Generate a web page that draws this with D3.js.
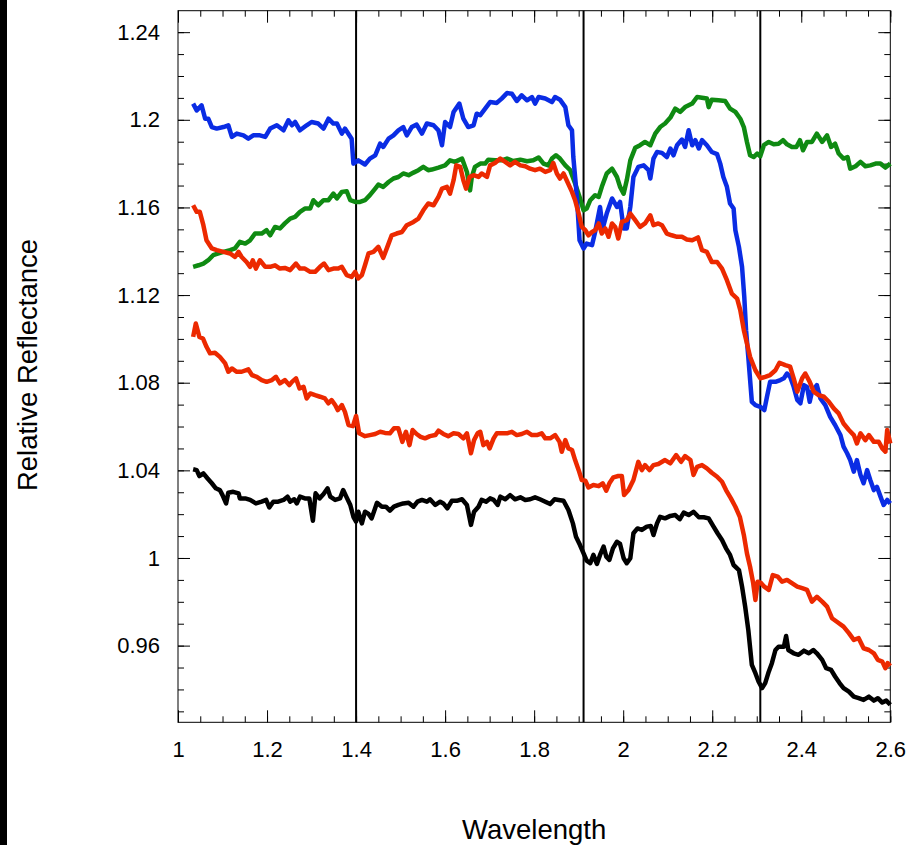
<!DOCTYPE html>
<html>
<head>
<meta charset="utf-8">
<script src="https://cdn.jsdelivr.net/npm/d3@7"></script>
<style>
  html, body { margin: 0; padding: 0; background: #fff; }
  svg { display: block; }
  text { font-family: "Liberation Sans", Arial, sans-serif; fill: #000; }
</style>
</head>
<body>
<svg id="chart" width="909" height="845"></svg>
<script>
// ---------- data (wavelength, relative reflectance) ----------
const xTickValues = [1, 1.2, 1.4, 1.6, 1.8, 2, 2.2, 2.4, 2.6];
const xTickLabels = ["1", "1.2", "1.4", "1.6", "1.8", "2", "2.2", "2.4", "2.6"];
const yTickValues = [0.96, 1, 1.04, 1.08, 1.12, 1.16, 1.2, 1.24];
const yTickLabels = ["0.96", "1", "1.04", "1.08", "1.12", "1.16", "1.2", "1.24"];
const markerLines = [1.4, 1.911, 2.308];

const blueSeries = [[1.034,1.2074],[1.042,1.2043],[1.053,1.2066],[1.061,1.2005],[1.068,1.2005],[1.076,1.1967],[1.087,1.1960],[1.102,1.1967],[1.113,1.1975],[1.121,1.1922],[1.132,1.1937],[1.147,1.1929],[1.158,1.1914],[1.169,1.1929],[1.184,1.1929],[1.196,1.1922],[1.207,1.1960],[1.222,1.1975],[1.237,1.1952],[1.248,1.1998],[1.256,1.1975],[1.263,1.1990],[1.274,1.1952],[1.289,1.1975],[1.300,1.1990],[1.315,1.1983],[1.327,1.1960],[1.338,1.2005],[1.349,1.1983],[1.357,1.1983],[1.368,1.1937],[1.375,1.1960],[1.390,1.1914],[1.394,1.1800],[1.405,1.1815],[1.420,1.1796],[1.431,1.1823],[1.443,1.1838],[1.454,1.1891],[1.461,1.1876],[1.473,1.1914],[1.484,1.1929],[1.495,1.1952],[1.506,1.1967],[1.514,1.1929],[1.525,1.1967],[1.536,1.1978],[1.548,1.1937],[1.559,1.1983],[1.574,1.1975],[1.585,1.1952],[1.593,1.1884],[1.600,1.1990],[1.611,1.1967],[1.619,1.2036],[1.632,1.2074],[1.641,1.2005],[1.652,1.1967],[1.664,1.1975],[1.671,1.2028],[1.679,1.2021],[1.690,1.2051],[1.701,1.2081],[1.716,1.2077],[1.727,1.2097],[1.739,1.2122],[1.750,1.2119],[1.761,1.2086],[1.772,1.2112],[1.784,1.2089],[1.795,1.2104],[1.802,1.2074],[1.810,1.2104],[1.825,1.2097],[1.840,1.2081],[1.847,1.2104],[1.858,1.2092],[1.870,1.2058],[1.877,1.1975],[1.885,1.1952],[1.888,1.1830],[1.896,1.1648],[1.902,1.1450],[1.911,1.1413],[1.918,1.1435],[1.930,1.1428],[1.937,1.1488],[1.948,1.1602],[1.954,1.1504],[1.963,1.1572],[1.975,1.1641],[1.986,1.1602],[1.993,1.1625],[2.001,1.1504],[2.008,1.1504],[2.016,1.1602],[2.023,1.1739],[2.034,1.1785],[2.046,1.1792],[2.057,1.1770],[2.061,1.1732],[2.068,1.1823],[2.076,1.1853],[2.087,1.1849],[2.098,1.1830],[2.106,1.1869],[2.113,1.1838],[2.121,1.1884],[2.132,1.1910],[2.139,1.1876],[2.147,1.1952],[2.155,1.1884],[2.162,1.1907],[2.170,1.1869],[2.177,1.1907],[2.188,1.1884],[2.199,1.1853],[2.211,1.1843],[2.218,1.1800],[2.225,1.1739],[2.233,1.1694],[2.240,1.1618],[2.248,1.1595],[2.252,1.1496],[2.260,1.1420],[2.267,1.1329],[2.272,1.1192],[2.276,1.1040],[2.281,1.0918],[2.289,1.0713],[2.297,1.0698],[2.308,1.0690],[2.317,1.0675],[2.323,1.0736],[2.330,1.0804],[2.342,1.0804],[2.353,1.0812],[2.361,1.0820],[2.368,1.0842],[2.375,1.0827],[2.383,1.0781],[2.391,1.0721],[2.398,1.0706],[2.406,1.0789],[2.413,1.0781],[2.419,1.0713],[2.424,1.0759],[2.435,1.0789],[2.443,1.0728],[2.454,1.0698],[2.465,1.0644],[2.476,1.0607],[2.488,1.0561],[2.495,1.0508],[2.503,1.0478],[2.510,1.0447],[2.518,1.0394],[2.525,1.0447],[2.533,1.0379],[2.540,1.0341],[2.548,1.0401],[2.555,1.0356],[2.563,1.0310],[2.570,1.0325],[2.578,1.0280],[2.585,1.0242],[2.593,1.0265],[2.600,1.0249]];

const greenSeries = [[1.034,1.1329],[1.046,1.1336],[1.057,1.1344],[1.068,1.1359],[1.079,1.1382],[1.091,1.1390],[1.102,1.1397],[1.117,1.1405],[1.128,1.1413],[1.139,1.1443],[1.151,1.1435],[1.162,1.1450],[1.173,1.1481],[1.188,1.1481],[1.199,1.1496],[1.207,1.1473],[1.218,1.1511],[1.229,1.1504],[1.240,1.1527],[1.252,1.1549],[1.263,1.1557],[1.274,1.1580],[1.285,1.1595],[1.297,1.1595],[1.304,1.1633],[1.315,1.1610],[1.327,1.1633],[1.338,1.1633],[1.349,1.1663],[1.357,1.1641],[1.368,1.1671],[1.379,1.1674],[1.387,1.1633],[1.398,1.1625],[1.409,1.1625],[1.420,1.1633],[1.431,1.1656],[1.443,1.1686],[1.450,1.1704],[1.461,1.1694],[1.473,1.1716],[1.484,1.1732],[1.495,1.1739],[1.506,1.1755],[1.518,1.1747],[1.529,1.1759],[1.540,1.1770],[1.551,1.1785],[1.562,1.1770],[1.570,1.1773],[1.585,1.1782],[1.600,1.1792],[1.611,1.1815],[1.622,1.1808],[1.638,1.1823],[1.649,1.1762],[1.656,1.1678],[1.660,1.1739],[1.667,1.1785],[1.679,1.1800],[1.690,1.1800],[1.697,1.1818],[1.712,1.1815],[1.727,1.1815],[1.739,1.1823],[1.753,1.1812],[1.769,1.1818],[1.784,1.1811],[1.798,1.1815],[1.810,1.1828],[1.821,1.1800],[1.832,1.1792],[1.840,1.1823],[1.849,1.1838],[1.858,1.1823],[1.870,1.1792],[1.881,1.1770],[1.892,1.1709],[1.902,1.1648],[1.911,1.1587],[1.918,1.1595],[1.926,1.1633],[1.937,1.1656],[1.945,1.1648],[1.952,1.1694],[1.963,1.1755],[1.975,1.1777],[1.986,1.1739],[1.993,1.1694],[2.001,1.1663],[2.008,1.1724],[2.016,1.1815],[2.027,1.1872],[2.038,1.1884],[2.049,1.1899],[2.061,1.1884],[2.072,1.1937],[2.083,1.1967],[2.094,1.1983],[2.106,1.2010],[2.117,1.2051],[2.128,1.2036],[2.139,1.2058],[2.155,1.2074],[2.166,1.2104],[2.177,1.2101],[2.188,1.2097],[2.192,1.2058],[2.199,1.2092],[2.214,1.2089],[2.229,1.2086],[2.240,1.2051],[2.252,1.2036],[2.263,1.2005],[2.271,1.1967],[2.278,1.1899],[2.285,1.1838],[2.293,1.1830],[2.301,1.1846],[2.308,1.1834],[2.316,1.1884],[2.327,1.1899],[2.338,1.1888],[2.349,1.1891],[2.359,1.1907],[2.368,1.1888],[2.379,1.1876],[2.389,1.1876],[2.397,1.1907],[2.404,1.1861],[2.413,1.1899],[2.424,1.1899],[2.435,1.1937],[2.447,1.1899],[2.458,1.1929],[2.467,1.1876],[2.476,1.1891],[2.484,1.1846],[2.495,1.1823],[2.504,1.1830],[2.510,1.1777],[2.522,1.1788],[2.533,1.1808],[2.544,1.1788],[2.555,1.1792],[2.567,1.1800],[2.578,1.1800],[2.589,1.1782],[2.600,1.1800]];

const redUpperSeries = [[1.034,1.1610],[1.042,1.1580],[1.049,1.1580],[1.057,1.1519],[1.064,1.1450],[1.076,1.1413],[1.087,1.1405],[1.102,1.1397],[1.117,1.1390],[1.128,1.1374],[1.136,1.1397],[1.143,1.1374],[1.154,1.1351],[1.162,1.1329],[1.168,1.1359],[1.175,1.1321],[1.184,1.1359],[1.196,1.1329],[1.207,1.1329],[1.218,1.1336],[1.229,1.1321],[1.240,1.1324],[1.252,1.1314],[1.265,1.1344],[1.274,1.1321],[1.285,1.1321],[1.297,1.1306],[1.308,1.1306],[1.319,1.1329],[1.328,1.1344],[1.338,1.1314],[1.349,1.1321],[1.360,1.1321],[1.368,1.1329],[1.379,1.1291],[1.390,1.1283],[1.398,1.1306],[1.405,1.1276],[1.413,1.1291],[1.420,1.1336],[1.428,1.1390],[1.439,1.1397],[1.450,1.1420],[1.461,1.1370],[1.473,1.1435],[1.480,1.1473],[1.491,1.1481],[1.503,1.1488],[1.514,1.1519],[1.529,1.1534],[1.540,1.1549],[1.551,1.1587],[1.562,1.1618],[1.574,1.1610],[1.585,1.1648],[1.593,1.1686],[1.604,1.1694],[1.611,1.1663],[1.619,1.1724],[1.625,1.1792],[1.634,1.1785],[1.641,1.1724],[1.647,1.1686],[1.655,1.1739],[1.664,1.1747],[1.675,1.1739],[1.682,1.1755],[1.694,1.1739],[1.701,1.1792],[1.712,1.1803],[1.724,1.1823],[1.735,1.1808],[1.746,1.1792],[1.757,1.1808],[1.769,1.1792],[1.780,1.1788],[1.791,1.1777],[1.802,1.1770],[1.813,1.1777],[1.825,1.1762],[1.836,1.1770],[1.843,1.1803],[1.851,1.1755],[1.858,1.1732],[1.866,1.1755],[1.873,1.1724],[1.885,1.1671],[1.892,1.1633],[1.900,1.1572],[1.907,1.1511],[1.915,1.1496],[1.922,1.1473],[1.930,1.1488],[1.937,1.1496],[1.945,1.1527],[1.952,1.1481],[1.960,1.1504],[1.967,1.1466],[1.975,1.1527],[1.982,1.1511],[1.989,1.1458],[1.997,1.1534],[2.008,1.1542],[2.016,1.1572],[2.027,1.1542],[2.038,1.1511],[2.049,1.1527],[2.061,1.1564],[2.068,1.1519],[2.079,1.1527],[2.087,1.1519],[2.098,1.1481],[2.109,1.1473],[2.121,1.1466],[2.132,1.1466],[2.143,1.1454],[2.155,1.1450],[2.168,1.1463],[2.177,1.1405],[2.188,1.1397],[2.199,1.1351],[2.211,1.1351],[2.222,1.1321],[2.233,1.1268],[2.244,1.1207],[2.256,1.1184],[2.263,1.1131],[2.271,1.1040],[2.278,1.0979],[2.285,1.0918],[2.297,1.0857],[2.308,1.0820],[2.319,1.0827],[2.330,1.0835],[2.342,1.0857],[2.351,1.0891],[2.364,1.0880],[2.375,1.0873],[2.383,1.0820],[2.391,1.0759],[2.402,1.0820],[2.409,1.0842],[2.419,1.0804],[2.428,1.0759],[2.439,1.0743],[2.451,1.0736],[2.462,1.0713],[2.473,1.0683],[2.484,1.0660],[2.495,1.0614],[2.507,1.0584],[2.518,1.0561],[2.525,1.0523],[2.533,1.0569],[2.544,1.0538],[2.552,1.0561],[2.563,1.0530],[2.574,1.0530],[2.582,1.0500],[2.589,1.0485],[2.593,1.0584],[2.600,1.0523]];

const redLowerSeries = [[1.034,1.1009],[1.040,1.1070],[1.048,1.1009],[1.056,1.1002],[1.064,1.0964],[1.072,1.0934],[1.083,1.0937],[1.094,1.0918],[1.106,1.0888],[1.113,1.0850],[1.121,1.0865],[1.132,1.0850],[1.143,1.0850],[1.158,1.0861],[1.166,1.0835],[1.177,1.0827],[1.188,1.0812],[1.199,1.0804],[1.211,1.0812],[1.220,1.0827],[1.229,1.0797],[1.240,1.0812],[1.250,1.0789],[1.256,1.0804],[1.265,1.0820],[1.273,1.0774],[1.282,1.0781],[1.289,1.0728],[1.297,1.0751],[1.308,1.0743],[1.319,1.0736],[1.330,1.0728],[1.338,1.0706],[1.345,1.0721],[1.353,1.0698],[1.359,1.0675],[1.368,1.0698],[1.375,1.0667],[1.383,1.0607],[1.393,1.0602],[1.400,1.0648],[1.407,1.0569],[1.420,1.0556],[1.431,1.0561],[1.443,1.0566],[1.454,1.0576],[1.465,1.0571],[1.476,1.0569],[1.485,1.0592],[1.495,1.0592],[1.504,1.0530],[1.512,1.0576],[1.520,1.0515],[1.527,1.0584],[1.536,1.0566],[1.545,1.0553],[1.555,1.0546],[1.566,1.0556],[1.578,1.0561],[1.585,1.0581],[1.596,1.0566],[1.607,1.0556],[1.619,1.0569],[1.630,1.0566],[1.641,1.0546],[1.649,1.0569],[1.658,1.0478],[1.665,1.0538],[1.673,1.0569],[1.679,1.0576],[1.686,1.0515],[1.694,1.0530],[1.700,1.0500],[1.709,1.0546],[1.716,1.0569],[1.727,1.0569],[1.739,1.0569],[1.750,1.0576],[1.761,1.0561],[1.772,1.0566],[1.784,1.0576],[1.795,1.0561],[1.806,1.0561],[1.817,1.0569],[1.825,1.0546],[1.836,1.0546],[1.847,1.0561],[1.857,1.0530],[1.862,1.0485],[1.870,1.0538],[1.877,1.0500],[1.885,1.0493],[1.892,1.0447],[1.900,1.0401],[1.907,1.0356],[1.915,1.0353],[1.922,1.0322],[1.933,1.0333],[1.945,1.0328],[1.954,1.0341],[1.962,1.0307],[1.969,1.0341],[1.978,1.0368],[1.989,1.0374],[1.997,1.0374],[2.002,1.0287],[2.012,1.0310],[2.023,1.0356],[2.034,1.0439],[2.042,1.0401],[2.049,1.0424],[2.059,1.0401],[2.068,1.0424],[2.079,1.0429],[2.094,1.0447],[2.106,1.0432],[2.119,1.0470],[2.130,1.0439],[2.139,1.0465],[2.151,1.0447],[2.158,1.0379],[2.166,1.0416],[2.177,1.0424],[2.188,1.0409],[2.199,1.0389],[2.211,1.0371],[2.222,1.0348],[2.231,1.0310],[2.242,1.0272],[2.252,1.0234],[2.262,1.0188],[2.271,1.0105],[2.278,1.0021],[2.285,0.9960],[2.292,0.9885],[2.297,0.9808],[2.302,0.9892],[2.310,0.9885],[2.317,0.9869],[2.327,0.9854],[2.336,0.9922],[2.347,0.9915],[2.357,0.9892],[2.368,0.9900],[2.379,0.9885],[2.391,0.9869],[2.402,0.9862],[2.413,0.9854],[2.424,0.9801],[2.435,0.9823],[2.447,0.9801],[2.458,0.9778],[2.469,0.9725],[2.480,0.9709],[2.495,0.9687],[2.507,0.9657],[2.518,0.9626],[2.529,0.9634],[2.540,0.9588],[2.552,0.9580],[2.563,0.9565],[2.572,0.9535],[2.582,0.9527],[2.589,0.9497],[2.594,0.9520],[2.600,0.9507]];

const blackSeries = [[1.034,1.0405],[1.042,1.0401],[1.048,1.0374],[1.057,1.0386],[1.066,1.0364],[1.076,1.0341],[1.085,1.0318],[1.094,1.0310],[1.100,1.0287],[1.108,1.0249],[1.113,1.0298],[1.124,1.0302],[1.136,1.0295],[1.139,1.0272],[1.151,1.0272],[1.162,1.0265],[1.175,1.0249],[1.188,1.0257],[1.198,1.0265],[1.205,1.0231],[1.214,1.0257],[1.225,1.0257],[1.237,1.0265],[1.246,1.0280],[1.252,1.0257],[1.261,1.0268],[1.267,1.0249],[1.274,1.0280],[1.285,1.0272],[1.295,1.0272],[1.303,1.0170],[1.309,1.0295],[1.318,1.0272],[1.327,1.0292],[1.336,1.0318],[1.342,1.0280],[1.353,1.0265],[1.364,1.0272],[1.371,1.0310],[1.378,1.0280],[1.387,1.0242],[1.394,1.0188],[1.400,1.0166],[1.405,1.0211],[1.413,1.0158],[1.420,1.0211],[1.428,1.0201],[1.435,1.0181],[1.447,1.0252],[1.458,1.0234],[1.467,1.0234],[1.476,1.0216],[1.485,1.0234],[1.495,1.0242],[1.506,1.0249],[1.518,1.0252],[1.529,1.0234],[1.538,1.0257],[1.548,1.0265],[1.559,1.0257],[1.566,1.0268],[1.578,1.0242],[1.589,1.0257],[1.596,1.0249],[1.605,1.0227],[1.615,1.0261],[1.626,1.0261],[1.638,1.0268],[1.649,1.0242],[1.658,1.0151],[1.665,1.0211],[1.675,1.0234],[1.682,1.0265],[1.692,1.0257],[1.701,1.0272],[1.709,1.0265],[1.718,1.0242],[1.724,1.0280],[1.735,1.0268],[1.746,1.0287],[1.757,1.0268],[1.769,1.0277],[1.780,1.0265],[1.791,1.0268],[1.802,1.0277],[1.813,1.0268],[1.825,1.0257],[1.836,1.0246],[1.846,1.0268],[1.855,1.0265],[1.866,1.0261],[1.877,1.0219],[1.887,1.0158],[1.894,1.0097],[1.903,1.0059],[1.911,1.0021],[1.918,0.9988],[1.926,0.9976],[1.933,1.0014],[1.941,0.9973],[1.948,1.0014],[1.956,1.0052],[1.962,1.0006],[1.969,0.9991],[1.977,1.0044],[1.986,1.0074],[1.993,1.0064],[2.001,0.9999],[2.008,0.9976],[2.016,0.9999],[2.023,1.0113],[2.032,1.0135],[2.042,1.0128],[2.053,1.0143],[2.062,1.0146],[2.068,1.0105],[2.076,1.0158],[2.083,1.0188],[2.094,1.0181],[2.106,1.0192],[2.117,1.0196],[2.127,1.0177],[2.136,1.0207],[2.147,1.0196],[2.158,1.0211],[2.170,1.0186],[2.181,1.0186],[2.192,1.0181],[2.203,1.0143],[2.212,1.0113],[2.222,1.0082],[2.231,1.0044],[2.240,1.0014],[2.248,0.9968],[2.260,0.9945],[2.267,0.9869],[2.274,0.9778],[2.281,0.9672],[2.289,0.9512],[2.297,0.9474],[2.304,0.9436],[2.312,0.9406],[2.319,0.9429],[2.327,0.9481],[2.334,0.9520],[2.342,0.9580],[2.349,0.9595],[2.361,0.9595],[2.366,0.9644],[2.371,0.9580],[2.383,0.9565],[2.394,0.9558],[2.406,0.9577],[2.417,0.9565],[2.427,0.9580],[2.435,0.9565],[2.447,0.9535],[2.456,0.9497],[2.467,0.9489],[2.476,0.9459],[2.486,0.9429],[2.495,0.9406],[2.507,0.9390],[2.518,0.9367],[2.529,0.9360],[2.540,0.9352],[2.552,0.9367],[2.563,0.9349],[2.572,0.9360],[2.582,0.9340],[2.591,0.9349],[2.600,0.9330]];

const seriesList = [
  { name: "green", data: greenSeries, color: "#0f8a12" },
  { name: "blue", data: blueSeries, color: "#0a2ce4" },
  { name: "redUpper", data: redUpperSeries, color: "#ec2900" },
  { name: "redLower", data: redLowerSeries, color: "#ec2900" },
  { name: "black", data: blackSeries, color: "#000000" }
];

// ---------- layout ----------
const W = 909, H = 845;
const margin = { left: 178, top: 10.7, right: 909 - 890.3, bottom: 845 - 722.3 };
const iw = W - margin.left - margin.right;
const ih = H - margin.top - margin.bottom;

const svg = d3.select("#chart");
svg.append("rect").attr("x", 0).attr("y", 0).attr("width", W).attr("height", H).attr("fill", "#fff");
svg.append("rect").attr("x", 0).attr("y", 0).attr("width", 7).attr("height", H).attr("fill", "#000");

const g = svg.append("g").attr("transform", `translate(${margin.left},${margin.top})`);

const x = d3.scaleLinear().domain([1, 2.6]).range([0, iw]);
const y = d3.scaleLinear().domain([0.925, 1.2498]).range([ih, 0]);

const xMinor = d3.range(0, 33).map(i => 1 + i * 0.05).filter(v => v <= 2.6001);
const yMinor = d3.range(0, 33).map(i => 0.93 + i * 0.01).filter(v => v <= 1.2499);

const fontSize = 22;

function styleAxis(sel) {
  sel.select(".domain").remove();
  sel.selectAll("line").attr("stroke", "#000").attr("stroke-width", 1);
}

// minor ticks (all four sides)
g.append("g").attr("transform", `translate(0,${ih})`)
  .call(d3.axisBottom(x).tickValues(xMinor).tickSize(-6).tickFormat(""))
  .call(styleAxis);
g.append("g")
  .call(d3.axisTop(x).tickValues(xMinor).tickSize(-6).tickFormat(""))
  .call(styleAxis);
g.append("g")
  .call(d3.axisLeft(y).tickValues(yMinor).tickSize(-6).tickFormat(""))
  .call(styleAxis);
g.append("g").attr("transform", `translate(${iw},0)`)
  .call(d3.axisRight(y).tickValues(yMinor).tickSize(-6).tickFormat(""))
  .call(styleAxis);

// major ticks
const xAxis = g.append("g").attr("transform", `translate(0,${ih})`)
  .call(d3.axisBottom(x).tickValues(xTickValues).tickSize(-12).tickPadding(19)
    .tickFormat((d, i) => xTickLabels[i]))
  .call(styleAxis);
xAxis.selectAll("text").attr("font-size", fontSize).attr("font-family", "Liberation Sans, Arial, sans-serif").attr("fill", "#000");

g.append("g")
  .call(d3.axisTop(x).tickValues(xTickValues).tickSize(-12).tickFormat(""))
  .call(styleAxis);

const yAxis = g.append("g")
  .call(d3.axisLeft(y).tickValues(yTickValues).tickSize(-12).tickPadding(18)
    .tickFormat((d, i) => yTickLabels[i]))
  .call(styleAxis);
yAxis.selectAll("text").attr("font-size", fontSize).attr("font-family", "Liberation Sans, Arial, sans-serif").attr("fill", "#000");

g.append("g").attr("transform", `translate(${iw},0)`)
  .call(d3.axisRight(y).tickValues(yTickValues).tickSize(-12).tickFormat(""))
  .call(styleAxis);

// frame
g.append("rect").attr("x", 0).attr("y", 0).attr("width", iw).attr("height", ih)
  .attr("fill", "none").attr("stroke", "#000").attr("stroke-width", 1);

// vertical marker lines
g.selectAll(".marker").data(markerLines).enter().append("line")
  .attr("class", "marker")
  .attr("x1", d => x(d)).attr("x2", d => x(d))
  .attr("y1", 0).attr("y2", ih)
  .attr("stroke", "#000").attr("stroke-width", 2);

// series lines
const line = d3.line().x(d => x(d[0])).y(d => y(d[1]));
g.selectAll(".series").data(seriesList).enter().append("path")
  .attr("class", "series")
  .attr("d", d => line(d.data))
  .attr("fill", "none")
  .attr("stroke", d => d.color)
  .attr("stroke-width", 4.5)
  .attr("stroke-linejoin", "round")
  .attr("stroke-linecap", "butt");

// axis titles
svg.append("text")
  .attr("x", margin.left + iw / 2).attr("y", 839)
  .attr("text-anchor", "middle")
  .attr("font-size", 27.5)
  .text("Wavelength");

svg.append("text")
  .attr("transform", `translate(37,365) rotate(-90)`)
  .attr("text-anchor", "middle")
  .attr("font-size", 27.5)
  .text("Relative Reflectance");
</script>
</body>
</html>
